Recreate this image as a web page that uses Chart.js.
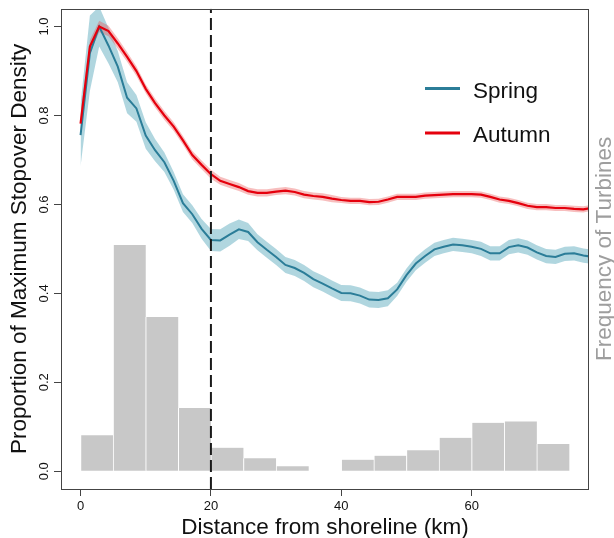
<!DOCTYPE html>
<html>
<head>
<meta charset="utf-8">
<style>
  html, body { margin: 0; padding: 0; background: #fff; }
</style>
</head>
<body>
<canvas id="stopoverChart" width="614" height="538"></canvas>
<script src="https://cdn.jsdelivr.net/npm/chart.js@4.4.1/dist/chart.umd.min.js"></script>
<script>
// distance (km) at which the smoothed densities were sampled
const distanceKm = [0, 1.43, 2.86, 4.29, 5.71, 7.14, 8.57, 10, 11.43, 12.86, 14.29, 15.71, 17.14, 18.57,
  20, 21.43, 22.86, 24.29, 25.71, 27.14, 28.57, 30, 31.43, 32.86, 34.29, 35.71, 37.14, 38.57,
  40, 41.43, 42.86, 44.29, 45.71, 47.14, 48.57, 50, 51.43, 52.86, 54.29, 55.71, 57.14, 58.57,
  60, 61.43, 62.86, 64.29, 65.71, 67.14, 68.57, 70, 71.43, 72.86, 74.29, 75.71, 77.14, 78.57];

const springDensity = [0.756, 0.94, 1.0, 0.957, 0.91, 0.840, 0.816, 0.755, 0.722, 0.695, 0.653, 0.603, 0.578, 0.545,
  0.520, 0.519, 0.532, 0.544, 0.538, 0.515, 0.498, 0.482, 0.464, 0.457, 0.446, 0.432, 0.422, 0.411,
  0.401, 0.400, 0.395, 0.386, 0.385, 0.389, 0.409, 0.441, 0.467, 0.484, 0.499, 0.505, 0.510, 0.508,
  0.505, 0.500, 0.490, 0.490, 0.504, 0.508, 0.503, 0.492, 0.484, 0.482, 0.489, 0.490, 0.485, 0.482];
const springCI = [0.07, 0.085, 0.045, 0.04, 0.035, 0.035, 0.03, 0.03, 0.025, 0.022, 0.02, 0.02, 0.02, 0.022,
  0.025, 0.025, 0.025, 0.022, 0.02, 0.018, 0.018, 0.018, 0.018, 0.018, 0.018, 0.018, 0.018, 0.018,
  0.018, 0.018, 0.018, 0.018, 0.018, 0.018, 0.015, 0.015, 0.015, 0.015, 0.015, 0.015, 0.015, 0.015,
  0.015, 0.016, 0.016, 0.016, 0.016, 0.016, 0.016, 0.016, 0.016, 0.016, 0.016, 0.016, 0.016, 0.016];

const autumnDensity = [0.782, 0.955, 1.0, 0.990, 0.962, 0.932, 0.900, 0.860, 0.828, 0.800, 0.775, 0.744, 0.711, 0.689,
  0.668, 0.653, 0.646, 0.639, 0.630, 0.626, 0.626, 0.629, 0.631, 0.628, 0.622, 0.619, 0.617, 0.613,
  0.610, 0.608, 0.608, 0.605, 0.606, 0.611, 0.617, 0.617, 0.617, 0.620, 0.621, 0.622, 0.623, 0.623,
  0.623, 0.622, 0.617, 0.611, 0.608, 0.603, 0.597, 0.594, 0.594, 0.592, 0.592, 0.590, 0.589, 0.593];
const autumnCI = [0.02, 0.015, 0.013, 0.012, 0.012, 0.011, 0.011, 0.01, 0.01, 0.01, 0.01, 0.01, 0.01, 0.01,
  0.01, 0.009, 0.009, 0.009, 0.008, 0.008, 0.008, 0.008, 0.008, 0.008, 0.008, 0.008, 0.008, 0.008,
  0.007, 0.007, 0.007, 0.007, 0.007, 0.007, 0.007, 0.007, 0.007, 0.007, 0.007, 0.007, 0.007, 0.007,
  0.007, 0.007, 0.007, 0.007, 0.007, 0.007, 0.007, 0.007, 0.007, 0.007, 0.007, 0.007, 0.007, 0.007];

// histogram of turbine distances, 5 km bins (bin mid points)
const binMidKm = [2.5, 7.5, 12.5, 17.5, 22.5, 27.5, 32.5, 37.5, 42.5, 47.5, 52.5, 57.5, 62.5, 67.5, 72.5, 77.5];
const turbineFreq = [0.081, 0.509, 0.347, 0.142, 0.053, 0.029, 0.011, 0, 0.026, 0.035, 0.047, 0.075, 0.109, 0.112, 0.061, 0];

const thresholdKm = 20;
const xTicks = { min: -3, max: 78, step: 20 };
const yTicks = { min: -0.04, max: 1.04, step: 0.2 };

const FONT = "'Liberation Sans', Arial, Helvetica, sans-serif";
const SPRING = "#2b7d98";
const AUTUMN = "#e5000d";

const pts = (xs, ys) => xs.map((x, i) => ({ x: x, y: ys[i] }));
const band = (ys, ci, sign) => pts(distanceKm, ys.map((v, i) => v + sign * ci[i]));

// box round the plot region
const plotFrame = {
  id: "plotFrame",
  afterDatasetsDraw(chart) {
    const a = chart.chartArea;
    const ctx = chart.ctx;
    ctx.save();
    ctx.strokeStyle = "#444";
    ctx.lineWidth = 1;
    ctx.strokeRect(Math.round(a.left) + 0.5, Math.round(a.top) + 0.5,
      Math.round(a.right - a.left) - 1, Math.round(a.bottom - a.top));
    ctx.restore();
  }
};

// legend inside the plot + grey title on the right side
const insetLegend = {
  id: "insetLegend",
  afterDraw(chart, args, opts) {
    const ctx = chart.ctx;
    ctx.save();
    ctx.font = "22.5px " + FONT;
    ctx.textBaseline = "alphabetic";
    ctx.textAlign = "left";
    chart.data.datasets.filter(d => d.legendRow !== undefined).forEach(d => {
      const y = opts.top + d.legendRow * opts.rowGap;
      ctx.strokeStyle = d.borderColor;
      ctx.lineWidth = 3;
      ctx.beginPath();
      ctx.moveTo(opts.left, y);
      ctx.lineTo(opts.left + 35, y);
      ctx.stroke();
      ctx.fillStyle = "#111";
      ctx.fillText(d.label, opts.left + 48, y + 9);
    });

    const a = chart.chartArea;
    ctx.translate(a.right + 16, (a.top + a.bottom) / 2);
    ctx.rotate(-Math.PI / 2);
    ctx.textAlign = "center";
    ctx.textBaseline = "middle";
    ctx.fillStyle = "#9e9e9e";
    ctx.fillText(opts.rightTitle, 0, 0);
    ctx.restore();
  }
};

new Chart(document.getElementById("stopoverChart"), {
  data: {
    datasets: [
      {
        type: "line", label: "threshold", order: 0,
        data: [{ x: thresholdKm, y: yTicks.min }, { x: thresholdKm, y: yTicks.max }],
        borderColor: "#1a1a1a", borderWidth: 2, borderDash: [12, 5],
        pointRadius: 0, clip: 0
      },
      {
        type: "line", label: "Autumn", legendRow: 1, order: 1,
        data: pts(distanceKm, autumnDensity),
        borderColor: AUTUMN, borderWidth: 2.2, pointRadius: 0, tension: 0, clip: 0
      },
      {
        type: "line", label: "Spring", legendRow: 0, order: 2,
        data: pts(distanceKm, springDensity),
        borderColor: SPRING, borderWidth: 2, pointRadius: 0, tension: 0, clip: 0
      },
      {
        type: "line", label: "autumn upper", order: 3,
        data: band(autumnDensity, autumnCI, 1),
        borderWidth: 0, pointRadius: 0, fill: false, clip: 0
      },
      {
        type: "line", label: "autumn lower", order: 3,
        data: band(autumnDensity, autumnCI, -1),
        borderWidth: 0, pointRadius: 0, fill: "-1",
        backgroundColor: "rgba(232, 70, 70, 0.35)", clip: 0
      },
      {
        type: "line", label: "spring upper", order: 4,
        data: band(springDensity, springCI, 1),
        borderWidth: 0, pointRadius: 0, fill: false, clip: 0
      },
      {
        type: "line", label: "spring lower", order: 4,
        data: band(springDensity, springCI, -1),
        borderWidth: 0, pointRadius: 0, fill: "-1",
        backgroundColor: "rgba(150, 200, 212, 0.75)", clip: 0
      },
      {
        type: "bar", label: "Frequency of Turbines", order: 5,
        data: pts(binMidKm, turbineFreq),
        backgroundColor: "#c8c8c8", borderColor: "#ffffff",
        borderWidth: { left: 1, right: 0, top: 0, bottom: 0 }, borderSkipped: false,
        barPercentage: 1, categoryPercentage: 1, clip: 0
      }
    ]
  },
  options: {
    responsive: false,
    animation: false,
    devicePixelRatio: 1,
    layout: { padding: { top: 8, right: 25, bottom: 0, left: 0 } },
    plugins: {
      legend: { display: false },
      tooltip: { enabled: false },
      insetLegend: { left: 425, top: 88.5, rowGap: 44.4, rightTitle: "Frequency of Turbines" }
    },
    scales: {
      x: {
        type: "linear",
        offset: false,
        min: xTicks.min, max: xTicks.max,
        border: { display: false },
        grid: { offset: false, drawOnChartArea: false, tickLength: 7, color: "#444" },
        ticks: {
          stepSize: xTicks.step, includeBounds: false, padding: 3, maxRotation: 0,
          color: "#111", font: { family: FONT, size: 13 }
        },
        title: {
          display: true, text: "Distance from shoreline (km)", color: "#111",
          font: { family: FONT, size: 22.5, lineHeight: 0.9 }, padding: { top: 0, bottom: 0 }
        },
        afterFit: s => { s.height = 49; }
      },
      y: {
        type: "linear",
        min: yTicks.min, max: yTicks.max,
        border: { display: false },
        grid: { drawOnChartArea: false, tickLength: 7, color: "#444" },
        ticks: {
          stepSize: yTicks.step, includeBounds: false, padding: 1,
          minRotation: 90, maxRotation: 90, crossAlign: "center",
          color: "#111", font: { family: FONT, size: 13 },
          callback: v => v.toFixed(1)
        },
        title: {
          display: true, text: "Proportion of Maximum Stopover Density", color: "#111",
          font: { family: FONT, size: 22.5, lineHeight: 0.9 }, padding: { top: 10, bottom: 0 }
        },
        afterFit: s => { s.width = 61; }
      }
    }
  },
  plugins: [plotFrame, insetLegend]
});
</script>
</body>
</html>
